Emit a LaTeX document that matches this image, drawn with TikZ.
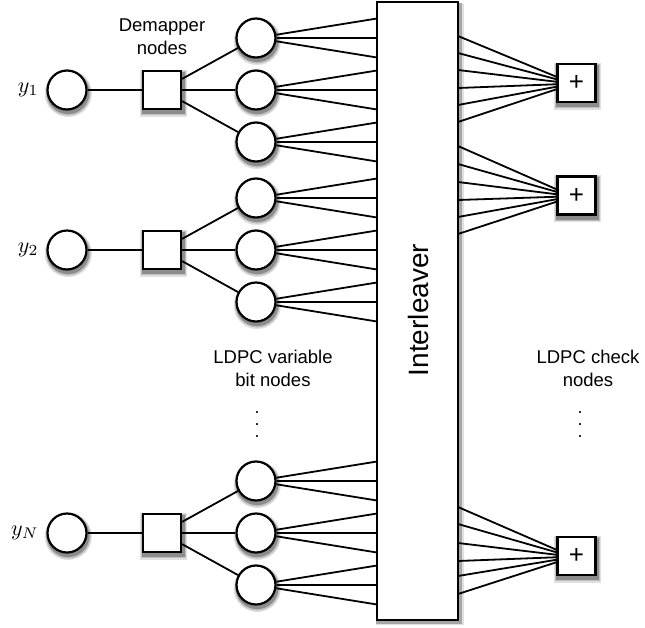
\documentclass[tikz,border=0pt]{standalone}
\usepackage{fontspec}
\setmainfont{Liberation Sans}
\pgfdeclarelayer{bg}
\pgfsetlayers{bg,main}
\newcommand\myshc[1]{%
  \begin{pgfonlayer}{bg}
    \fill[black!12] ([xshift=1.3pt,yshift=-3.4pt]#1.center) circle (23.6pt);
    \fill[black!25] ([xshift=1.3pt,yshift=-3.2pt]#1.center) circle (22.4pt);
    \fill[black!45] ([xshift=1.1pt,yshift=-2.8pt]#1.center) circle (21.3pt);
  \end{pgfonlayer}}
\newcommand\myshr[1]{%
  \begin{pgfonlayer}{bg}
    \fill[black!12] ([xshift=-2pt,yshift=-6.5pt]#1.south west) rectangle ([xshift=4.5pt,yshift=0pt]#1.north east);
    \fill[black!25] ([xshift=-1pt,yshift=-5.3pt]#1.south west) rectangle ([xshift=3.5pt,yshift=-1pt]#1.north east);
    \fill[black!45] ([xshift=0pt,yshift=-4pt]#1.south west) rectangle ([xshift=2.4pt,yshift=-2pt]#1.north east);
  \end{pgfonlayer}}
\begin{document}
\begin{tikzpicture}[x=1pt,y=-1pt,
  ln/.style={line width=1.8pt},
  vnode/.style={circle, draw, line width=2.2pt, fill=white, minimum size=39pt, inner sep=0pt},
  sq/.style={rectangle, draw, line width=2.2pt, fill=white, minimum size=38pt, inner sep=0pt},
  lbl/.style={font=\fontsize{18.5}{23}\selectfont, align=center, inner sep=0pt},
  dotsty/.style={font=\fontsize{18}{18}\selectfont, inner sep=0pt}]
\useasboundingbox (0,0) rectangle (645,627);

% interleaver
\node[rectangle, draw, line width=2.4pt, fill=white, minimum width=81pt, minimum height=618pt, inner sep=0pt] (il) at (417.5,311) {};
\begin{pgfonlayer}{bg}
  \fill[black!12] ([xshift=0pt,yshift=-4pt]il.south west) rectangle ([xshift=5pt,yshift=-3pt]il.north east);
  \fill[black!35] ([xshift=0pt,yshift=-2.5pt]il.south west) rectangle ([xshift=3pt,yshift=-2pt]il.north east);
\end{pgfonlayer}
\node[rotate=90, font=\fontsize{28}{30}\selectfont, inner sep=0pt] (ilt) at (418,310) {Interleaver};

% left part
\foreach \g/\c/\lab in {1/90/y_1, 2/250/y_2, 3/533/y_N} {
  \node[vnode] (y\g) at (67,\c) {};
  \myshc{y\g}
  \node[font=\fontsize{10}{12}\selectfont, scale=2.2, anchor=east, inner sep=0pt] (yl\g) at (39,\c) {$\lab$};
  \node[sq] (d\g) at (162,\c) {};
  \myshr{d\g}
  \draw[ln] (y\g) -- (d\g);
  \foreach \k/\o in {1/-52, 2/0, 3/52} {
    \node[vnode] (v\g\k) at (256,\c+\o) {};
    \myshc{v\g\k}
    \draw[ln] (d\g) -- (v\g\k);
    \foreach \m/\p in {1/-19.5, 2/0, 3/19.5} {
      \coordinate (a\g\k\m) at (377,{\c+\o+\p});
      \draw[ln] (v\g\k) -- (a\g\k\m);
    }
  }
}

% check nodes
\node[sq] (c1) at (576.5,83) {\fontsize{26}{26}\selectfont +};
\node[sq] (c2) at (576.5,195.5) {\fontsize{26}{26}\selectfont +};
\node[sq] (c3) at (576.5,556) {\fontsize{26}{26}\selectfont +};
\myshr{c1}\myshr{c2}\myshr{c3}
\foreach \y [count=\i] in {36,53,70,88,105,122} {
  \coordinate (b1\i) at (458,\y);
  \coordinate (e1\i) at ([yshift={6.25pt-(\i-1)*2.5pt}]c1.west);
  \draw[ln] (b1\i) -- (e1\i);
}
\foreach \y [count=\i] in {146,164,182,200,217,234} {
  \coordinate (b2\i) at (458,\y);
  \coordinate (e2\i) at ([yshift={6.25pt-(\i-1)*2.5pt}]c2.west);
  \draw[ln] (b2\i) -- (e2\i);
}
\foreach \y [count=\i] in {507,524,543,561,576,594} {
  \coordinate (b3\i) at (458,\y);
  \coordinate (e3\i) at ([yshift={6.25pt-(\i-1)*2.5pt}]c3.west);
  \draw[ln] (b3\i) -- (e3\i);
}

% labels
\node[lbl] (dm) at (162,36.5) {Demapper\\nodes};
\node[lbl] (lv) at (273,368.5) {LDPC variable\\bit nodes};
\node[lbl] (lc) at (588,368.5) {LDPC check\\nodes};
\node[dotsty] (dv) at (257,425) {\vbox{\baselineskip=12pt\lineskiplimit=-100pt\hbox{.}\hbox{.}\hbox{.}}};
\node[dotsty] (dc) at (580,425) {\vbox{\baselineskip=12pt\lineskiplimit=-100pt\hbox{.}\hbox{.}\hbox{.}}};
\end{tikzpicture}
\end{document}
